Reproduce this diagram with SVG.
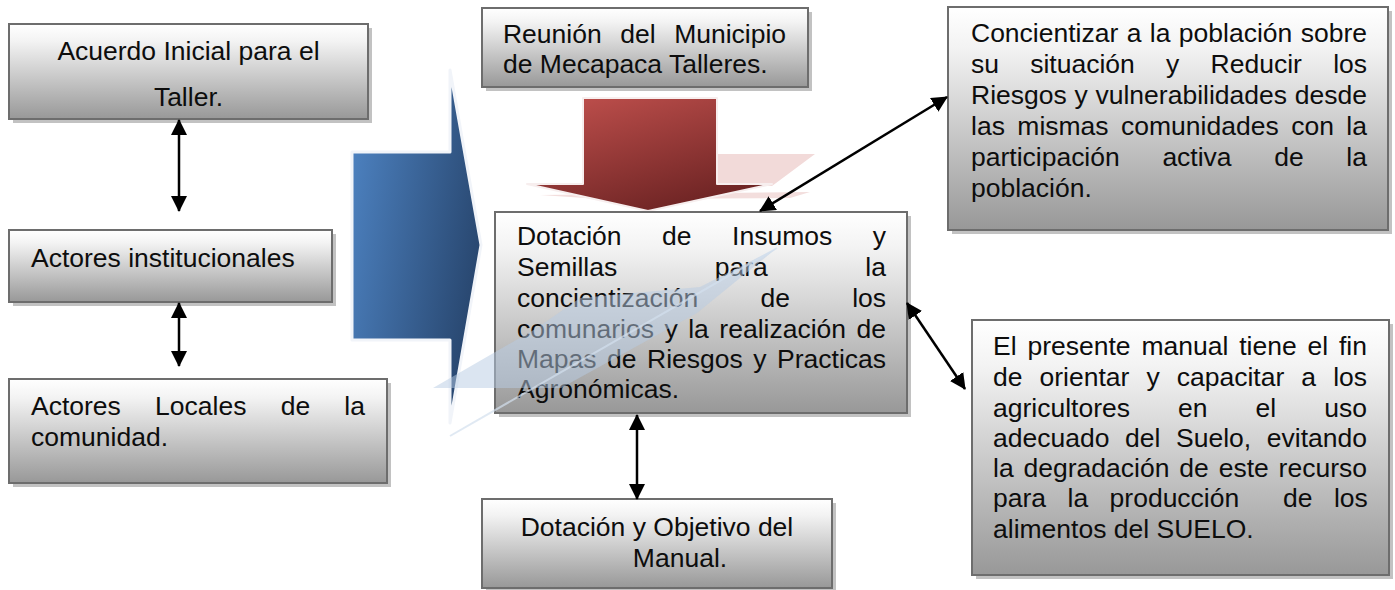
<svg xmlns="http://www.w3.org/2000/svg" width="1395" height="590" viewBox="0 0 1395 590">
<style>
  .box { stroke: #6d6d6d; stroke-width: 2; fill: url(#boxGrad); }
  .shadow { fill: #c2c2c2; }
  .t { font-family: "Liberation Sans", Arial, sans-serif; font-size: 26.5px; fill: #0d0d0d; }
  .mid { text-anchor: middle; }
  .conn { stroke: #000; stroke-width: 2.5; fill: none; marker-start: url(#arrow); marker-end: url(#arrow); }
</style>
<defs>
  <linearGradient id="boxGrad" x1="0" y1="0" x2="0" y2="1">
    <stop offset="0" stop-color="#ffffff"/>
    <stop offset="0.18" stop-color="#f3f3f3"/>
    <stop offset="1" stop-color="#989898"/>
  </linearGradient>
  <linearGradient id="blueGrad" x1="0" y1="0.3" x2="1" y2="0.7">
    <stop offset="0" stop-color="#4b7fbd"/>
    <stop offset="1" stop-color="#26436a"/>
  </linearGradient>
  <linearGradient id="redGrad" x1="0.1" y1="0" x2="0.7" y2="1">
    <stop offset="0" stop-color="#c0504d"/>
    <stop offset="1" stop-color="#6a2222"/>
  </linearGradient>
  <marker id="arrow" viewBox="0 0 16 16" refX="15" refY="8" markerWidth="16" markerHeight="16" markerUnits="userSpaceOnUse" orient="auto-start-reverse">
    <path d="M0,0 L16,8 L0,16 z" fill="#000"/>
  </marker>
</defs>
<rect width="1395" height="590" fill="#ffffff"/>

<!-- decorative arrows -->
<g id="blue-arrow">
  <polygon points="352,152 450,152 450,70 481,245 450,423 450,340 352,340" fill="url(#blueGrad)" stroke="#f1f4f9" stroke-width="3" stroke-linejoin="round"/>
</g>
<g id="red-arrow">
  <polygon points="717,154 815,154 772,186 717,186" fill="#f2dad9"/>
  <polygon points="540,195 810,192 790,198 600,199" fill="#f3dedd"/>
  <polygon points="583,98 717,98 717,184 772,184 648,211 527,184 583,184" fill="url(#redGrad)" stroke="#f7eeee" stroke-width="2" stroke-linejoin="round"/>
</g>

<!-- nodes -->
<g id="n-acuerdo">
  <rect class="shadow" x="13" y="28" width="359" height="95"/>
  <rect class="box" x="9" y="24" width="359" height="95"/>
  <text class="t mid" x="188.5" y="60">Acuerdo Inicial para el</text>
  <text class="t mid" x="188.5" y="106">Taller.</text>
</g>
<g id="n-institucionales">
  <rect class="shadow" x="13" y="234" width="323" height="72"/>
  <rect class="box" x="9" y="230" width="323" height="72"/>
  <text class="t" x="31" y="267">Actores institucionales</text>
</g>
<g id="n-locales">
  <rect class="shadow" x="13" y="383" width="378" height="104"/>
  <rect class="box" x="9" y="379" width="378" height="104"/>
  <text class="t" x="31" y="415" word-spacing="26.9" textLength="334" lengthAdjust="spacing">Actores Locales de la</text>
  <text class="t" x="31" y="446">comunidad.</text>
</g>
<g id="n-reunion">
  <rect class="shadow" x="486" y="12" width="326" height="79"/>
  <rect class="box" x="482" y="8" width="326" height="79"/>
  <text class="t" x="503" y="43" word-spacing="11.2" textLength="283" lengthAdjust="spacing">Reunión del Municipio</text>
  <text class="t" x="503" y="73">de Mecapaca Talleres.</text>
</g>
<g id="n-dotacion-insumos">
  <rect class="shadow" x="499" y="216" width="412" height="201"/>
  <rect class="box" x="495" y="212" width="412" height="201"/>
  <text class="t" x="517" y="245" word-spacing="33.2" textLength="369" lengthAdjust="spacing">Dotación de Insumos y</text>
  <text class="t" x="517" y="276" word-spacing="90.2" textLength="369" lengthAdjust="spacing">Semillas para la</text>
  <text class="t" x="517" y="307" word-spacing="54.9" textLength="369" lengthAdjust="spacing">concientización de los</text>
  <text class="t" x="517" y="338" word-spacing="3.15" textLength="369" lengthAdjust="spacing">comunarios y la realización de</text>
  <text class="t" x="517" y="368" word-spacing="3.15" textLength="369" lengthAdjust="spacing">Mapas de Riesgos y Practicas</text>
  <text class="t" x="517" y="398">Agronómicas.</text>
</g>
<g id="n-concientizar">
  <rect class="shadow" x="952" y="11" width="440" height="223"/>
  <rect class="box" x="948" y="7" width="440" height="223"/>
  <text class="t" x="971" y="42" word-spacing="1.05" textLength="396" lengthAdjust="spacing">Concientizar a la población sobre</text>
  <text class="t" x="971" y="73" word-spacing="23.9" textLength="396" lengthAdjust="spacing">su situación y Reducir los</text>
  <text class="t" x="971" y="104" word-spacing="0.4" textLength="396" lengthAdjust="spacing">Riesgos y vulnerabilidades desde</text>
  <text class="t" x="971" y="135" word-spacing="5.1" textLength="396" lengthAdjust="spacing">las mismas comunidades con la</text>
  <text class="t" x="971" y="166" word-spacing="35.3" textLength="396" lengthAdjust="spacing">participación activa de la</text>
  <text class="t" x="971" y="197">población.</text>
</g>
<g id="n-manual">
  <rect class="shadow" x="976" y="324" width="417" height="255"/>
  <rect class="box" x="972" y="320" width="417" height="255"/>
  <text class="t" x="993" y="355" word-spacing="3.5" textLength="374" lengthAdjust="spacing">El presente manual tiene el fin</text>
  <text class="t" x="993" y="386" word-spacing="9.7" textLength="374" lengthAdjust="spacing">de orientar y capacitar a los</text>
  <text class="t" x="993" y="417" word-spacing="40.7" textLength="374" lengthAdjust="spacing">agricultores en el uso</text>
  <text class="t" x="993" y="447" word-spacing="8.3" textLength="374" lengthAdjust="spacing">adecuado del Suelo, evitando</text>
  <text class="t" x="993" y="477" word-spacing="2.5" textLength="374" lengthAdjust="spacing">la degradación de este recurso</text>
  <text class="t" y="507" word-spacing="14.1"><tspan x="993">para la producción</tspan><tspan x="1283">de los</tspan></text>
  <text class="t" x="993" y="538">alimentos del SUELO.</text>
</g>
<g id="n-objetivo">
  <rect class="shadow" x="486" y="503" width="350" height="89"/>
  <rect class="box" x="482" y="499" width="350" height="89"/>
  <text class="t mid" x="657" y="536">Dotación y Objetivo del</text>
  <text class="t mid" x="680" y="567">Manual.</text>
</g>

<!-- reflection tint of the blue arrow -->
<g id="reflection">
  <polygon points="433,388 561,388 697,313 777,248 700,287 580,298 537,328" fill="#b8cce4" fill-opacity="0.5"/>
  <line x1="450" y1="436" x2="777" y2="248" stroke="#d3dfee" stroke-width="2" stroke-opacity="0.7"/>
</g>

<!-- connectors -->
<g id="connectors">
  <line class="conn" x1="179" y1="120" x2="179" y2="211"/>
  <line class="conn" x1="179" y1="303" x2="179" y2="366"/>
  <line class="conn" x1="637" y1="415" x2="637" y2="499"/>
  <line class="conn" x1="760" y1="211" x2="947" y2="97"/>
  <line class="conn" x1="907" y1="303" x2="965" y2="389"/>
</g>
</svg>
